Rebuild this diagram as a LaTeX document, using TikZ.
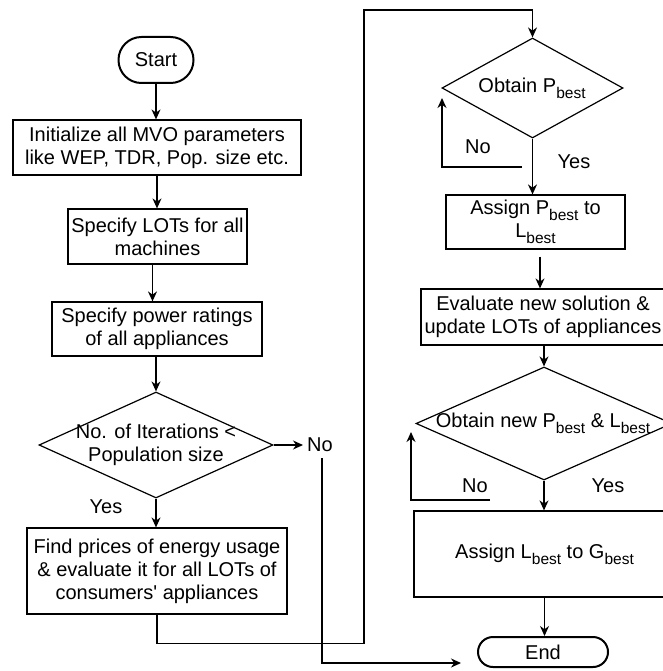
\documentclass[tikz,border=0pt]{standalone}
\usepackage{fontspec}
\setmainfont{Liberation Sans}
\usetikzlibrary{shapes.geometric,arrows.meta}
\newcommand\lsub[1]{\raisebox{-0.3em}{\fontsize{15.5}{15.5}\selectfont #1}}
\begin{document}
\begin{tikzpicture}[x=1pt,y=-1pt,
  font=\fontsize{20}{23}\selectfont,
  box/.style={draw, line width=1.2pt, inner sep=0, align=center},
  term/.style={draw, line width=2pt, inner sep=0},
  dia/.style={draw, diamond, line width=1.2pt, inner sep=0},
  lbl/.style={inner sep=0, align=center},
  arr/.style={-{Stealth[length=10pt,width=9pt]}, line width=1.3pt},
  ln/.style={line width=1.3pt}]
\useasboundingbox (0,0) rectangle (662,671);
% left column
\node[term, rounded corners=22.9pt, minimum width=75pt, minimum height=46pt] (start) at (156,60) {Start};
\node[box, minimum width=288pt, minimum height=55pt] (init) at (157,147.5) {Initialize all MVO parameters\\like WEP, TDR, Pop. size etc.};
\node[box, minimum width=179pt, minimum height=55pt] (lots) at (157.5,236.5) {Specify LOTs for all\\machines};
\node[box, minimum width=210pt, minimum height=54pt] (power) at (157,329) {Specify power ratings\\of all appliances};
\node[dia, minimum width=234pt, minimum height=106pt] (d1) at (156,445) {};
\node[lbl] (d1t) at (d1.center) {No. of Iterations <\\Population size};
\node[box, minimum width=260pt, minimum height=86pt] (find) at (157,571) {Find prices of energy usage\\\& evaluate it for all LOTs of\\consumers\textquotesingle{} appliances};
\node[lbl, anchor=west] (no1) at (307,445) {No};
\node[lbl] (yes1) at (106,507) {Yes};
% right column
\node[dia, minimum width=181pt, minimum height=100pt] (d2) at (532.5,88) {};
\node[lbl] (d2t) at (532,88) {Obtain P\lsub{best}};
\node[lbl] (no2) at (478,147) {No};
\node[lbl] (yes2) at (574,162) {Yes};
\node[box, minimum width=179pt, minimum height=54pt] (assignp) at (535.5,222) {Assign P\lsub{best} to\\L\lsub{best}};
\node[box, minimum width=244pt, minimum height=56pt] (eval) at (543,317) {Evaluate new solution \&\\update LOTs of appliances};
\node[dia, minimum width=256pt, minimum height=113pt] (d3) at (544,423.5) {};
\node[lbl] (d3t) at (543,423) {Obtain new P\lsub{best} \& L\lsub{best}};
\node[lbl] (no3) at (475,486) {No};
\node[lbl] (yes3) at (608,486) {Yes};
\node[box, minimum width=261pt, minimum height=86pt] (assignl) at (544.5,554) {Assign L\lsub{best} to G\lsub{best}};
\node[term, rounded corners=15pt, minimum width=130pt, minimum height=30pt] (end) at (543,652) {End};
% free ends
\coordinate (noend) at (461,663);
\coordinate (l2s) at (522,167);
\coordinate (l2e) at (442,98);
\coordinate (l3s) at (490,500);
\coordinate (l3e) at (411,432);
% connectors
\draw[arr] (start.south) -- (start.south |- init.north);
\draw[arr] (init.south) -- (init.south |- lots.north);
\draw[arr] ([xshift=-5pt]lots.south) -- ([xshift=-5pt]lots.south |- power.north);
\draw[arr] (power.south) -- (power.south -| d1.north) -- (d1.north);
\draw[arr] (d1.east) -- ([xshift=-4pt]no1.west);
\draw[arr] ([xshift=2pt,yshift=-6pt]no1.south) |- (noend);
\draw[arr] (d1.south) -- (d1.south |- find.north);
\draw[arr] (find.south) -- ++(0,29) -| (364,10) -| (d2.north);
\draw[arr] (d2.south) -- (d2.south |- assignp.north);
\draw[arr] (l2s) -| (l2e);
\draw[arr] ([xshift=4.5pt,yshift=-7pt]assignp.south) -- ([xshift=4.5pt]assignp.south |- eval.north);
\draw[arr] ([xshift=1pt]eval.south) -- (d3.north);
\draw[arr] (l3s) -| (l3e);
\draw[arr] (d3.south) -- (d3.south |- assignl.north);
\draw[arr] (assignl.south) -- (assignl.south |- end.north);
\end{tikzpicture}
\end{document}
